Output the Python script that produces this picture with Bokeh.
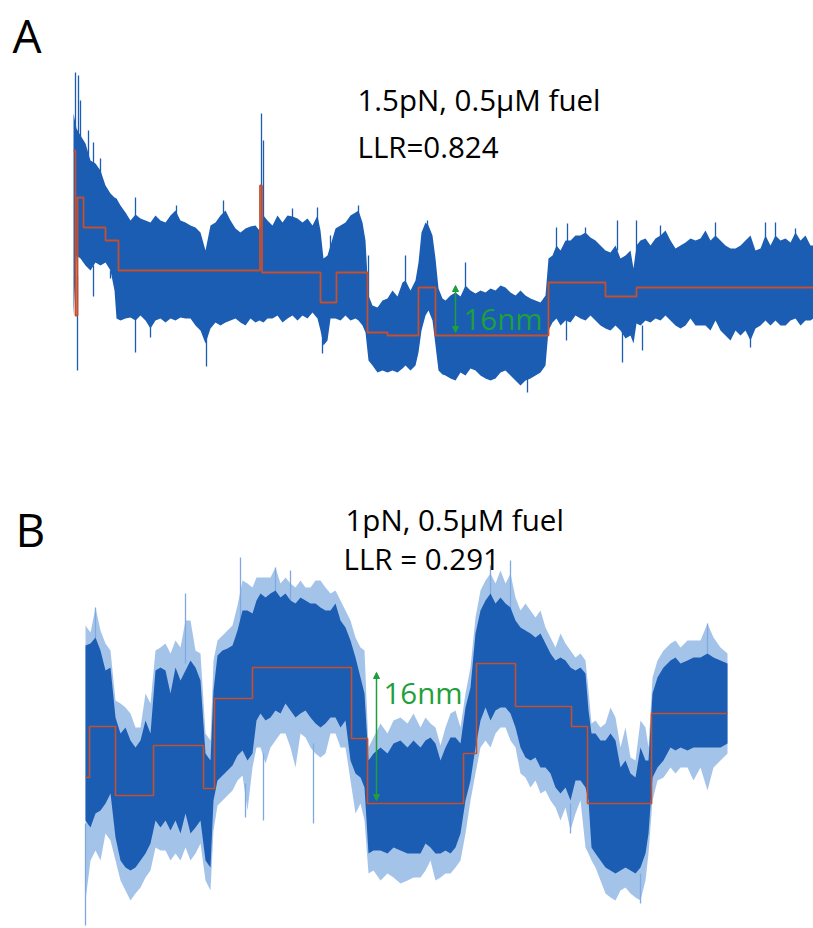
from bokeh.plotting import figure
from bokeh.layouts import column
from bokeh.models import Range1d, Label, Arrow, NormalHead
from bokeh.embed import file_html
from bokeh.resources import INLINE

# ---------------- Panel A : 1.5 pN, 0.5 uM fuel (time, extension in arbitrary units) ----------
a_time = [0, 3, 7, 12, 17, 22, 27, 32, 37, 41,
          43, 47, 52, 57, 62, 67, 72, 77, 82, 87,
          92, 97, 102, 107, 112, 117, 122, 127, 132, 137,
          142, 147, 152, 157, 162, 167, 172, 177, 182, 186,
          190, 194, 199, 204, 209, 214, 219, 224, 229, 234,
          239, 244, 247, 250, 254, 257, 262, 267, 272, 277,
          282, 285, 289, 292, 295, 299, 304, 309, 314, 319,
          324, 329, 332, 337, 342, 345, 348, 352, 355, 359,
          362, 365, 369, 372, 377, 382, 387, 392, 397, 402,
          407, 412, 417, 422, 427, 432, 437, 442, 447, 452,
          457, 462, 467, 472, 475, 479, 483, 487, 492, 497,
          502, 507, 512, 517, 522, 527, 532, 537, 542, 547,
          552, 557, 560, 563, 567, 572, 577, 582, 587, 592,
          597, 602, 607, 612, 617, 622, 627, 632, 637, 642,
          647, 652, 657, 662, 667, 672, 677, 682, 687, 692,
          697, 702, 707, 712, 717, 722, 727, 732, 737, 740]
a_top = [222, 207, 200, 192, 175, 172, 165, 150, 142, 138,
         137, 130, 123, 115, 121, 117, 115, 113, 120, 115,
         113, 120, 125, 115, 113, 110, 108, 103, 85, 110,
         113, 120, 125, 115, 107, 103, 107, 109, 110, 105,
         120, 115, 110, 120, 113, 120, 119, 117, 113, 117,
         110, 120, 105, 77, 80, 90, 107, 110, 113, 120,
         123, 125, 113, 95, 40, 30, 28, 35, 37, 45,
         39, 53, 55, 45, 55, 73, 103, 113, 110, 100,
         77, 47, 37, 35, 40, 43, 39, 50, 45, 42,
         45, 43, 47, 45, 50, 48, 43, 40, 45, 40,
         37, 35, 33, 40, 77, 80, 90, 85, 95, 95,
         100, 100, 103, 98, 95, 90, 85, 83, 90, 77,
         80, 85, 67, 90, 95, 97, 90, 97, 100, 105,
         95, 87, 90, 93, 97, 95, 97, 105, 95, 100,
         95, 90, 87, 87, 90, 95, 100, 85, 87, 100,
         90, 100, 95, 97, 93, 103, 95, 100, 90, 90]
a_bot = [20, 80, 77, 70, 65, 73, 70, 73, 65, 45,
         17, 15, 17, 18, 15, 20, 15, 7, 15, 17,
         13, 17, 15, 18, 17, 17, 10, 5, -8, 7,
         13, 10, 13, 15, 17, 13, 10, 17, 13, 15,
         13, 17, 17, 20, 13, 17, 20, 15, 20, 17,
         23, 17, 5, -10, -5, 17, 17, 15, 20, 15,
         17, 15, 10, 3, -25, -30, -37, -35, -37, -35,
         -37, -33, -30, -35, -30, -17, 5, 20, 25, 15,
         -10, -35, -39, -40, -43, -45, -37, -40, -33, -35,
         -40, -43, -45, -43, -37, -35, -40, -45, -50, -45,
         -43, -40, -37, -30, 5, 13, 17, 10, 15, 13,
         20, 17, 15, 20, 15, 10, 7, 5, 10, 5,
         -3, 0, -8, 12, 10, 15, 13, 17, 15, 20,
         15, 10, 7, 10, 17, 10, 10, 10, 5, 15,
         5, 0, -5, 5, 0, 5, -5, 7, 10, 15,
         10, 15, 10, 10, 15, 17, 10, 15, 15, 17]

# isolated spikes of the trace (time, from, to)
a_spike_t = [2, 5, 7, 15, 20, 27, 62, 103, 150, 188, 190, 219, 244, 257, 285, 295, 332, 354, 392,
             483, 494, 512, 544, 563, 587, 642, 692, 702, 722,
             4, 20, 37, 62, 77, 133, 249, 454, 493, 549, 569, 677]
a_spike_from = [180, 190, 190, 180, 170, 160, 115, 115, 115, 100, 100, 110, 110, 85, 115, 35, 50, 105, 45,
                85, 90, 95, 85, 85, 95, 95, 95, 95, 95,
                60, 70, 65, 20, 10, 0, 0, -40, 15, 5, 10, 0]
a_spike_to = [263, 260, 235, 205, 193, 177, 138, 130, 135, 222, 195, 127, 128, 100, 130, 80, 80, 115, 73,
              108, 112, 108, 115, 115, 110, 113, 113, 113, 107,
              -35, 39, 57, -17, -2, -31, -18, -57, -5, -27, -15, -12]

# step fit A
a_fit_t = [0, 2, 4, 10, 32, 45, 186.5, 188.5, 247, 263, 294, 314, 345, 362, 475, 532, 563, 740]
a_fit_y = [185, 20, 138, 108, 95, 65, 150, 63, 33, 63, 3, 0, 48, 0, 53, 39, 48, 48]

# ---------------- Panel B : 1 pN, 0.5 uM fuel ----------------
b_time = [0, 5, 10, 15, 20, 25, 30, 35, 40, 45,
          50, 55, 60, 65, 70, 75, 80, 85, 90, 95,
          100, 105, 110, 115, 120, 125, 128, 132, 137, 142,
          147, 152, 157, 162, 167, 171, 175, 180, 185, 190,
          195, 200, 205, 210, 215, 220, 225, 230, 235, 240,
          245, 250, 255, 260, 265, 270, 275, 279, 283, 288,
          295, 302, 308, 315, 322, 328, 335, 340, 345, 350,
          355, 360, 365, 370, 375, 380, 385, 390, 395, 400,
          405, 410, 415, 420, 425, 430, 435, 440, 445, 450,
          455, 460, 465, 470, 475, 480, 485, 490, 495, 500,
          503, 506, 510, 515, 520, 525, 530, 535, 540, 545,
          550, 555, 560, 563, 567, 572, 578, 585, 590, 595,
          602, 608, 615, 622, 628, 635, 642]
b_outer_top = [178, 171, 196, 173, 160, 153, 103, 100, 96, 90,
               76, 76, 110, 100, 153, 156, 160, 150, 163, 156,
               183, 183, 153, 150, 70, 63, 143, 163, 168, 173,
               178, 198, 223, 220, 216, 226, 226, 226, 226, 236,
               220, 226, 220, 216, 223, 216, 216, 223, 223, 216,
               210, 213, 203, 193, 183, 166, 156, 153, 56, 66,
               80, 70, 83, 86, 80, 90, 76, 86, 80, 76,
               58, 76, 90, 93, 76, 110, 136, 186, 213, 223,
               230, 220, 233, 220, 230, 206, 193, 200, 193, 186,
               193, 176, 166, 156, 170, 160, 153, 146, 150, 143,
               113, 80, 83, 76, 80, 96, 86, 56, 76, 46,
               43, 83, 76, 56, 126, 143, 153, 160, 163, 156,
               163, 163, 163, 180, 166, 156, 150]
b_core_top = [158, 160, 166, 153, 133, 136, 86, 70, 76, 63,
              56, 63, 83, 70, 133, 136, 133, 110, 136, 123,
              133, 143, 136, 123, 50, 43, 113, 148, 153, 155,
              158, 173, 193, 193, 190, 203, 210, 206, 210, 213,
              206, 210, 203, 200, 206, 203, 200, 200, 196, 193,
              193, 200, 183, 176, 163, 146, 126, 110, 43, 50,
              56, 50, 60, 63, 56, 63, 56, 63, 66, 60,
              43, 56, 66, 66, 60, 96, 116, 170, 193, 203,
              210, 200, 206, 200, 196, 183, 176, 173, 170, 166,
              170, 160, 150, 143, 146, 143, 136, 133, 136, 130,
              93, 70, 70, 63, 63, 70, 63, 36, 43, 30,
              26, 56, 43, 43, 110, 126, 136, 143, 146, 140,
              143, 146, 146, 150, 146, 143, 140]
b_core_bot = [-17, -24, -10, -7, 0, 10, -34, -57, -64, -67,
              -64, -57, -50, -40, -17, -24, -17, -27, -17, -30,
              -10, -30, -24, -17, -57, -64, 3, 23, 28, 33,
              38, 48, 53, 43, 50, 83, 90, 83, 86, 93,
              90, 100, 93, 86, 90, 93, 86, 80, 76, 80,
              86, 86, 76, 83, 43, 30, 26, 16, -50, -47,
              -47, -50, -44, -47, -50, -50, -50, -40, -44, -50,
              -50, -47, -50, -44, -30, 3, 23, 56, 83, 96,
              83, 93, 96, 96, 90, 76, 56, 46, 43, 46,
              36, 36, 30, 16, 10, 16, 3, 23, 23, 16,
              3, -44, -50, -57, -64, -67, -70, -67, -64, -67,
              -70, -64, -50, -30, 26, 36, 43, 56, 53, 56,
              53, 56, 56, 56, 56, 56, 60]
b_outer_bot = [-97, -57, -47, -57, -30, -37, -57, -77, -87, -97,
               -90, -84, -74, -67, -44, -47, -47, -57, -50, -57,
               -44, -57, -50, -40, -77, -87, -27, -2, 3, 8,
               13, 23, 28, -7, 36, 56, 56, 40, 56, 63,
               70, 70, 56, 36, 70, 66, 56, 50, 46, 50,
               70, 70, 56, 56, 23, -10, 0, -17, -70, -67,
               -77, -70, -74, -80, -77, -74, -74, -67, -57, -77,
               -74, -70, -70, -64, -57, -30, 3, 30, 56, 63,
               56, 70, 76, 76, 63, 56, 30, 26, 16, 23,
               10, 13, 3, -4, -17, -4, -27, -10, 3, -44,
               -50, -57, -64, -77, -90, -94, -97, -87, -84, -90,
               -94, -97, -77, -50, 3, 23, 26, 36, 30, 36,
               36, 23, 36, 13, 36, 43, 50]

b_spike_t = [10, 100, 155, 190, 205, 405, 425, 622, 0, 160, 178, 228, 485, 555]
b_spike_from = [160, 140, 180, 210, 200, 200, 190, 150, -20, 20, 50, 60, 0, -70]
b_spike_to = [196, 210, 246, 236, 233, 238, 243, 180, -122, -14, -17, -20, -30, -100]

# step fit B
b_fit_t = [0, 4, 30, 68, 118, 129, 167, 266, 282, 378, 391, 430, 486, 502, 566, 642]
b_fit_y = [26, 77, 8, 58, 15, 105, 136, 65, 0, 50, 140, 97, 77, 0, 90, 90]

TRACE = "#1b5db3"
TRACE_LIGHT = "#7eaae0"
FIT = "#c4502f"
GREEN = "#1fa03a"
FONT = "Open Sans"


def base_fig(xr, yr):
    p = figure(width=813, height=464, x_range=Range1d(*xr), y_range=Range1d(*yr),
               output_backend="svg", toolbar_location=None, min_border=0,
               background_fill_color="white", border_fill_color="white")
    p.axis.visible = False
    p.grid.visible = False
    p.outline_line_color = None
    return p


def lab(p, x, y, text, size, color="black"):
    p.add_layout(Label(x=x, y=y, text=text, text_font=FONT, text_font_size=size,
                       text_color=color, text_baseline="alphabetic"))


# ---------- figure A ----------
pa = base_fig((-73, 740), (-129, 335))
pa.varea(x=a_time, y1=a_bot, y2=a_top, fill_color=TRACE)
pa.segment(x0=a_spike_t, y0=a_spike_from, x1=a_spike_t, y1=a_spike_to,
           line_color=TRACE, line_width=1.3)
pa.step(x=a_fit_t, y=a_fit_y, mode="after", line_color=FIT, line_width=1.8)
pa.add_layout(Arrow(x_start=382, y_start=3, x_end=382, y_end=50,
                    start=NormalHead(size=6, fill_color=GREEN, line_color=GREEN),
                    end=NormalHead(size=6, fill_color=GREEN, line_color=GREEN),
                    line_color=GREEN, line_width=1.5))
lab(pa, 390, 17, "16nm", "29.5px", GREEN)
lab(pa, -61, 301, "A", "46px")
lab(pa, 284, 236, "1.5pN, 0.5µM fuel", "29.5px")
lab(pa, 284, 189, "LLR=0.824", "29.5px")

# ---------- figure B ----------
pb = base_fig((-85, 728), (-125, 339))
pb.varea(x=b_time, y1=b_outer_bot, y2=b_outer_top, fill_color=TRACE_LIGHT, fill_alpha=0.7)
pb.segment(x0=b_spike_t, y0=b_spike_from, x1=b_spike_t, y1=b_spike_to,
           line_color=TRACE_LIGHT, line_width=1.3)
pb.varea(x=b_time, y1=b_core_bot, y2=b_core_top, fill_color=TRACE)
pb.step(x=b_fit_t, y=b_fit_y, mode="after", line_color=FIT, line_width=1.6)
pb.add_layout(Arrow(x_start=291, y_start=3, x_end=291, y_end=131,
                    start=NormalHead(size=6, fill_color=GREEN, line_color=GREEN),
                    end=NormalHead(size=6, fill_color=GREEN, line_color=GREEN),
                    line_color=GREEN, line_width=1.5))
lab(pb, 298, 111, "16nm", "29.5px", GREEN)
lab(pb, -70, 275, "B", "46px")
lab(pb, 260, 284, "1pN, 0.5µM fuel", "29.5px")
lab(pb, 258, 245, "LLR = 0.291", "29.5px")

layout = column(pa, pb, spacing=0)
open("out.html", "w").write(file_html(layout, INLINE))
